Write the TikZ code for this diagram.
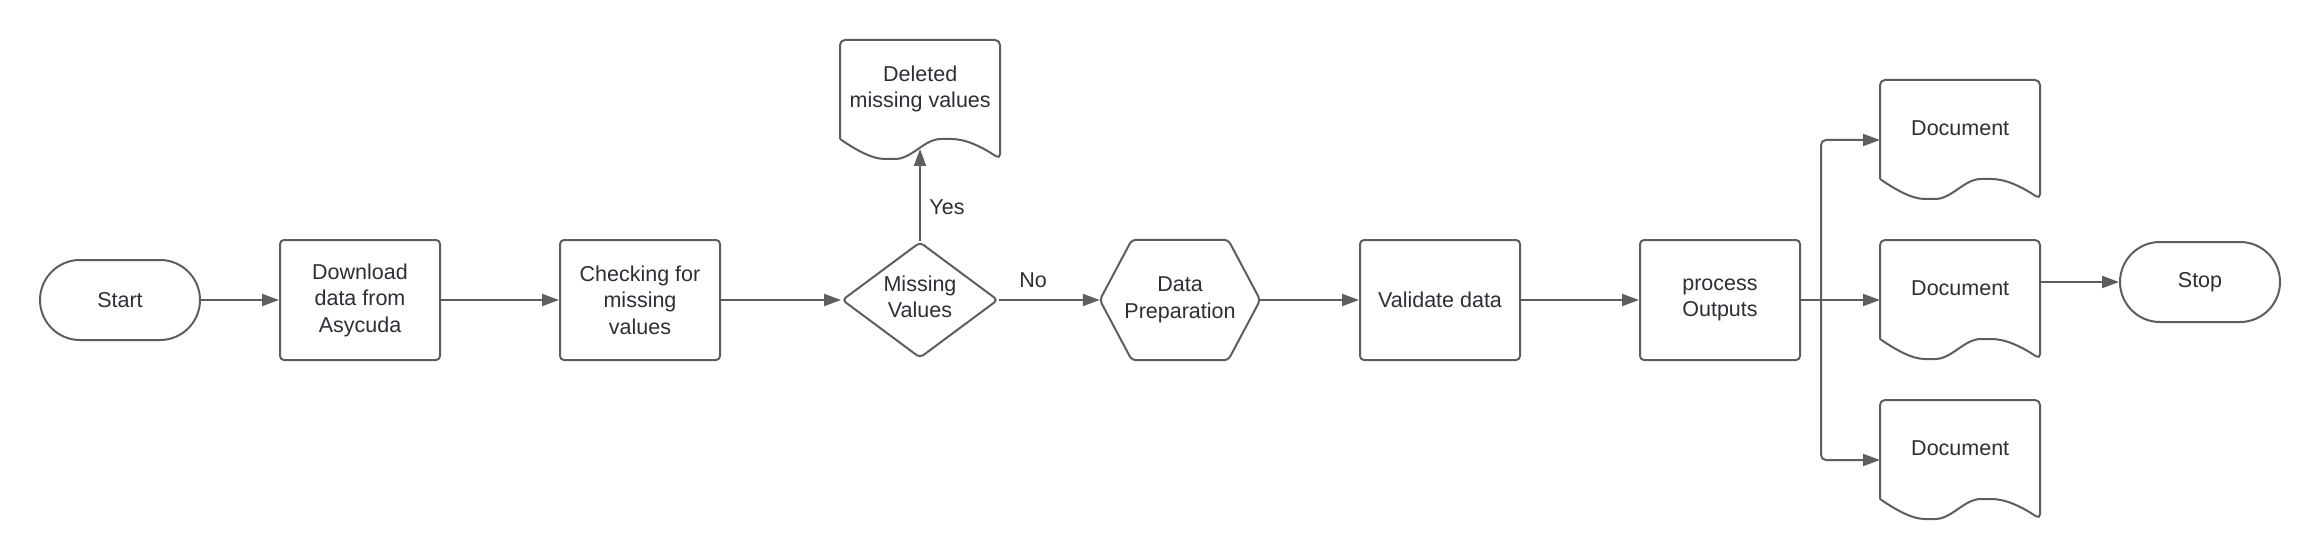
\documentclass[tikz,border=0pt]{standalone}
\usepackage{fontspec}
\setmainfont{Liberation Sans}
\usetikzlibrary{arrows.meta,shapes.geometric}
\definecolor{lc}{HTML}{5E5E5E}
\definecolor{tc}{HTML}{2B2F36}
\newcommand\docoutline[1]{\draw[shapeline, rounded corners=5pt, shift={(#1.north west)}] (0,99) -- (0,0) -- (160,0) -- (160,119) .. controls (145,109) and (128,99) .. (106,99) .. controls (84,99) and (72,119) .. (50,119) .. controls (32,119) and (16,110) .. (0,99);}
\begin{document}
\begin{tikzpicture}[x=1pt,y=-1pt,
  font=\fontsize{21.5}{26.5}\selectfont,
  every node/.style={text=tc, align=center, inner sep=0pt},
  shapeline/.style={draw=lc, line width=2pt},
  procbox/.style={shapeline, rectangle, rounded corners=4pt, minimum width=160pt, minimum height=120pt},
  termbox/.style={shapeline, rectangle, rounded corners=40pt, minimum width=160pt, minimum height=80pt},
  decbox/.style={shapeline, diamond, aspect=1.345, minimum width=156pt, minimum height=116pt, rounded corners=4pt},
  docbox/.style={rectangle, minimum width=160pt, minimum height=96pt, anchor=north west},
  hexbox/.style={rectangle, minimum width=160pt, minimum height=120pt},
  conn/.style={draw=lc, line width=2pt, -{Triangle[length=17pt,width=12pt]}},
  lbl/.style={text=tc},
]
\useasboundingbox[fill=white] (0,0) rectangle (2320,556);

\node[termbox] (start) at (120,300) {Start};
\node[procbox] (dl) at (360,300) {Download\\data from\\Asycuda};
\node[procbox] (chk) at (640,300) {Checking for\\missing\\values};
\node[decbox] (dec) at (920,300) {};
\node (dectext) at ([yshift=3pt]dec.center) {Missing\\Values};
\node[docbox, minimum height=97pt] (del) at (840,40) {Deleted\\missing values};
\docoutline{del}
\node[hexbox] (hex) at (1180,300) {Data\\Preparation};
\draw[shapeline, rounded corners=4pt] ([xshift=32pt]hex.north west) -- ([xshift=-32pt]hex.north east) -- (hex.east) -- ([xshift=-32pt]hex.south east) -- ([xshift=32pt]hex.south west) -- (hex.west) -- cycle;
\node[procbox] (val) at (1440,300) {Validate data};
\node[procbox] (proc) at (1720,300) {process\\Outputs};
\node[docbox] (d1) at (1880,80) {Document};
\docoutline{d1}
\node[docbox] (d2) at (1880,240) {Document};
\docoutline{d2}
\node[docbox] (d3) at (1880,400) {Document};
\docoutline{d3}
\node[termbox] (stop) at (2200,282) {Stop};

\coordinate (delb) at ([shift={(78,109)}]del.north west);
\coordinate (br) at (1821,300);
\coordinate (d1in) at ([yshift=-60pt]d1.north west);
\coordinate (d2in) at ([yshift=-60pt]d2.north west);
\coordinate (d3in) at ([yshift=-60pt]d3.north west);
\coordinate (d2out) at ([yshift=-42pt]d2.north east);

\draw[conn] (start) -- (dl);
\draw[conn] (dl) -- (chk);
\draw[conn] (chk) -- (dec);
\draw[conn] (dec.north) -- (dec.north |- delb);
\draw[conn] (dec.east) -- (hex.west);
\draw[conn] (hex.east) -- (val);
\draw[conn] (val) -- (proc);
\draw[conn] (proc.east) -- (d2in);
\draw[conn, rounded corners=5pt] (br) |- (d1in);
\draw[conn, rounded corners=5pt] (br) |- (d3in);
\draw[conn] (d2out) -- (stop.west);

\node[lbl] (no) at (1033,280) {No};
\node[lbl] (yes) at (947,207) {Yes};
\end{tikzpicture}
\end{document}
